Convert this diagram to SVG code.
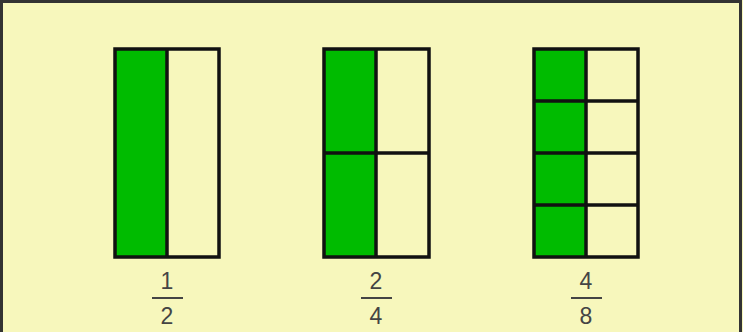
<svg xmlns="http://www.w3.org/2000/svg" width="743" height="332" viewBox="0 0 743 332">
<style>
.g{fill:#00BB00}
.c{fill:#F7F7BC}
.ln{stroke:#111;stroke-width:3.5;fill:none}
.t{font-family:"Liberation Sans",Arial,sans-serif;font-size:23px;fill:#444;text-anchor:middle}
.bar{stroke:#444;stroke-width:2}
</style>
<rect x="0" y="0" width="743" height="332" fill="#F7F7BC"/>
<path d="M1.5,332 V1.5 H740.5 V332" fill="none" stroke="#333" stroke-width="3"/>
<g id="half">
<rect class="g" x="115" y="49" width="52" height="208"/>
<rect class="ln" x="115" y="49" width="104" height="208"/>
<line class="ln" x1="167" y1="49" x2="167" y2="257"/>
<text class="t" x="167" y="289">1</text>
<line class="bar" x1="152" y1="298" x2="183" y2="298"/>
<text class="t" x="167" y="324">2</text>
</g>
<g id="quarters">
<rect class="g" x="324" y="49" width="52" height="208"/>
<rect class="ln" x="324" y="49" width="105" height="208"/>
<line class="ln" x1="376" y1="49" x2="376" y2="257"/>
<line class="ln" x1="324" y1="153" x2="429" y2="153"/>
<text class="t" x="376" y="289">2</text>
<line class="bar" x1="361" y1="298" x2="392" y2="298"/>
<text class="t" x="376" y="324">4</text>
</g>
<g id="eighths">
<rect class="g" x="534" y="49" width="52" height="208"/>
<rect class="ln" x="534" y="49" width="104" height="208"/>
<line class="ln" x1="586" y1="49" x2="586" y2="257"/>
<line class="ln" x1="534" y1="101" x2="638" y2="101"/>
<line class="ln" x1="534" y1="153" x2="638" y2="153"/>
<line class="ln" x1="534" y1="205" x2="638" y2="205"/>
<text class="t" x="586" y="289">4</text>
<line class="bar" x1="571" y1="298" x2="602" y2="298"/>
<text class="t" x="586" y="324">8</text>
</g>
</svg>
